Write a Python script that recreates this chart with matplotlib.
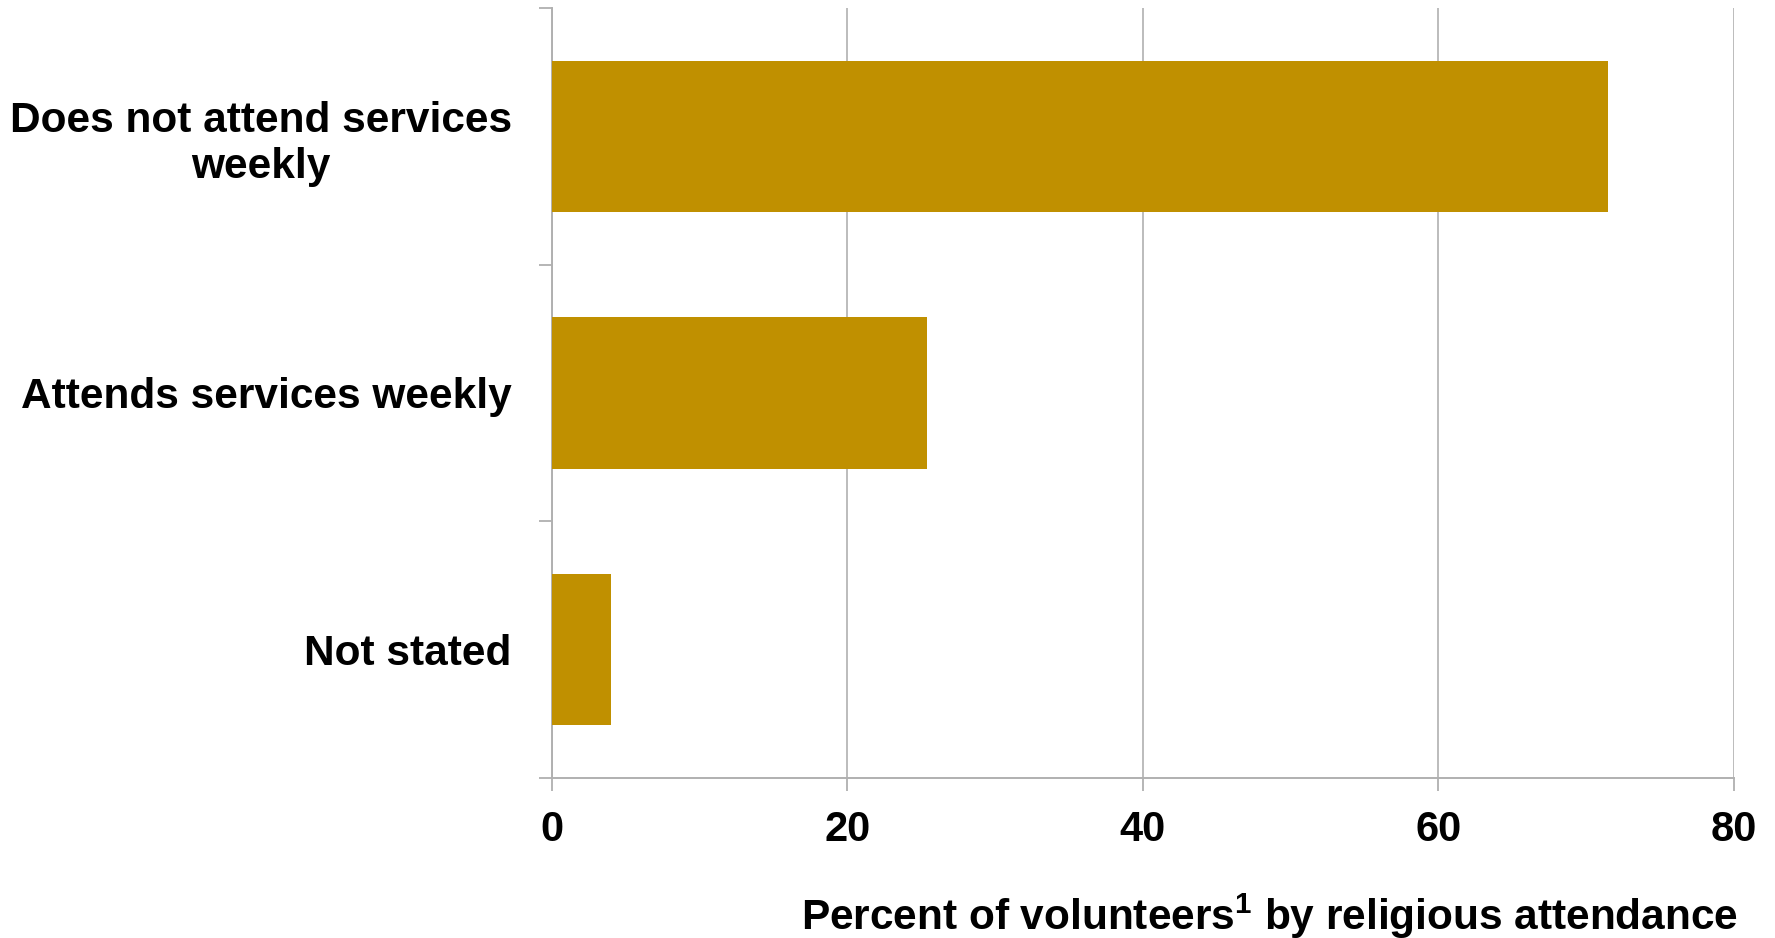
import matplotlib.pyplot as plt
import numpy as np

plt.rcParams['font.family'] = ['Liberation Sans', 'DejaVu Sans']
plt.rcParams['font.weight'] = 'bold'
plt.rcParams['mathtext.fontset'] = 'custom'
plt.rcParams['mathtext.rm'] = 'Liberation Sans'
plt.rcParams['mathtext.bf'] = 'Liberation Sans:bold'

categorias = ["Does not attend services\nweekly", "Attends services weekly", "Not stated"]
porcentajes = [71.5, 25.4, 4.0]
marcas_x = [0, 20, 40, 60, 80]

gris = '#b0b0b0'
dorado = '#c09000'

fig = plt.figure(figsize=(17.75, 9.38), dpi=100)
ax = fig.add_axes([0.311, 0.1706, 0.6657, 0.8209])

pos = np.arange(len(categorias))
ax.barh(pos, porcentajes, height=0.59, color=dorado, zorder=3)

ax.set_xlim(0, 80)
ax.set_ylim(len(categorias) - 0.5, -0.5)

# Rejilla vertical
ax.set_xticks(marcas_x)
ax.grid(axis='x', color=gris, linewidth=1.2, zorder=0)

# Etiquetas de las categorias en el centro, marcas en los bordes
ax.set_yticks(pos)
ax.set_yticklabels(categorias, fontsize=30.5, fontweight='bold', multialignment='center')
ax.set_yticks(np.arange(-0.5, len(categorias)), minor=True)
ax.tick_params(axis='y', which='major', length=0, pad=29)
ax.tick_params(axis='y', which='minor', length=9.5, width=1.3, color=gris, direction='out')
ax.tick_params(axis='x', length=9, width=1.3, color=gris, labelsize=30, pad=14)
for t in ax.get_xticklabels():
    t.set_fontweight('bold')

for lado in ['top', 'right']:
    ax.spines[lado].set_visible(False)
for lado in ['left', 'bottom']:
    ax.spines[lado].set_color(gris)
    ax.spines[lado].set_linewidth(1.4)

ax.set_xlabel(r"Percent of volunteers$^{\mathbf{1}}$ by religious attendance",
              fontsize=30.5, fontweight='bold', loc='right', labelpad=30)
ax.xaxis.get_label().set_x(1.004)

fig.savefig('out.png', dpi=100, facecolor='white')
